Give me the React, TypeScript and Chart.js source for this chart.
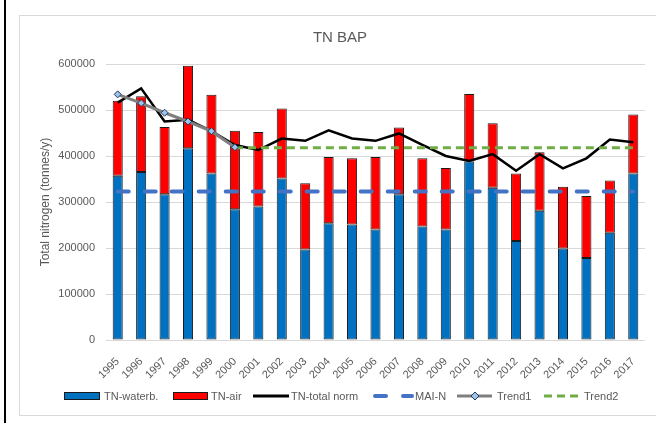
import React, { useEffect, useRef } from "react";
import { Chart, registerables } from "chart.js";

Chart.register(...registerables);

const FONT = "'Liberation Sans', Arial, sans-serif";

const years = [
  "1995", "1996", "1997", "1998", "1999", "2000", "2001", "2002", "2003", "2004", "2005", "2006",
  "2007", "2008", "2009", "2010", "2011", "2012", "2013", "2014", "2015", "2016", "2017",
];

const tnWaterborne = [
  357000, 365000, 317000, 417000, 362000, 284000, 290000, 351000, 197000, 254000, 251000, 240000,
  317000, 247000, 240000, 388000, 331000, 215000, 281000, 199000, 178000, 233000, 362000,
];

const tnAir = [
  163000, 165000, 146000, 179000, 171000, 171000, 162000, 152000, 144000, 144000, 144000, 158000,
  145000, 148000, 134000, 147000, 140000, 147000, 127000, 134000, 135000, 114000, 128000,
];

const tnTotalNorm = [
  516000, 547000, 475000, 479000, 454000, 424000, 413000, 438000, 433000, 456000, 438000, 433000,
  449000, 424000, 400000, 389000, 404000, 368000, 404000, 373000, 395000, 436000, 430000,
];

const maiN = [
  323000, 323000, 323000, 323000, 323000, 323000, 323000, 323000, 323000, 323000, 323000, 323000,
  323000, 323000, 323000, 323000, 323000, 323000, 323000, 323000, 323000, 323000, 323000,
];

const trend1 = [
  534000, 515000, 494000, 475000, 454000, 419000, null, null, null, null, null, null,
  null, null, null, null, null, null, null, null, null, null, null,
];

const trend2 = [
  null, null, null, null, null, 418000, 418000, 418000, 418000, 418000, 418000, 418000,
  418000, 418000, 418000, 418000, 418000, 418000, 418000, 418000, 418000, 418000, 418000,
];

const yTickValues = [0, 100000, 200000, 300000, 400000, 500000, 600000];

const chartTitle = "TN BAP";
const yAxisTitle = "Total nitrogen (tonnes/y)";

const C_BLUE = "#0070C0";
const C_RED = "#FF0000";
const C_MAI = "#4472C4";
const C_GREY = "#7F7F7F";
const C_GREEN = "#70AD47";
const C_TEXT = "#595959";

export default function App() {
  const ref = useRef<HTMLCanvasElement>(null);

  useEffect(() => {
    document.body.style.margin = "0";
    const canvas = ref.current;
    if (!canvas) return;

    const titlePlugin = {
      id: "fixedTitle",
      afterDraw(chart: any) {
        const ctx = chart.ctx;
        ctx.save();
        ctx.font = `15px ${FONT}`;
        ctx.fillStyle = C_TEXT;
        ctx.textAlign = "center";
        ctx.textBaseline = "middle";
        ctx.fillText(chartTitle, 340, 38);
        ctx.restore();
      },
    };

    const chart = new Chart(canvas, {
      type: "bar",
      data: {
        labels: years,
        datasets: [
          {
            type: "line",
            label: "Trend1",
            data: trend1 as any,
            borderColor: C_GREY,
            borderWidth: 3,
            pointStyle: "rectRot",
            pointRadius: 3.5,
            pointBackgroundColor: "#9DC3E6",
            pointBorderColor: "#1F3864",
            pointBorderWidth: 1,
            spanGaps: false,
            stack: "t1",
            order: 0,
          },
          {
            type: "line",
            label: "Trend2",
            data: trend2 as any,
            borderColor: C_GREEN,
            borderWidth: 3,
            borderDash: [8, 5],
            pointRadius: 0,
            stack: "t2",
            order: 0,
          },
          {
            type: "line",
            label: "TN-total norm",
            data: tnTotalNorm,
            borderColor: "#000000",
            borderWidth: 2.5,
            pointRadius: 0,
            stack: "tot",
            order: 1,
          },
          {
            type: "line",
            label: "MAI-N",
            data: maiN,
            borderColor: C_MAI,
            borderWidth: 4,
            borderDash: [11, 16],
            borderCapStyle: "round",
            pointRadius: 0,
            stack: "mai",
            order: 1,
          },
          {
            type: "bar",
            label: "TN-waterb.",
            data: tnWaterborne,
            backgroundColor: C_BLUE,
            borderColor: "#1a1a1a",
            borderWidth: 1,
            borderSkipped: false,
            stack: "bars",
            order: 2,
            barPercentage: 0.43,
            categoryPercentage: 1,
          },
          {
            type: "bar",
            label: "TN-air",
            data: tnAir,
            backgroundColor: C_RED,
            borderColor: "#1a1a1a",
            borderWidth: 1,
            borderSkipped: false,
            stack: "bars",
            order: 2,
            barPercentage: 0.43,
            categoryPercentage: 1,
          },
        ],
      },
      options: {
        responsive: false,
        devicePixelRatio: 1,
        animation: false,
        layout: { padding: { left: 34, right: 11, top: 64, bottom: 33 } },
        plugins: {
          legend: { display: false },
          title: { display: false },
          tooltip: { enabled: false },
        },
        scales: {
          x: {
            stacked: true,
            grid: { display: false },
            border: { display: false },
            ticks: {
              color: C_TEXT,
              font: { family: FONT, size: 11 },
              minRotation: 45,
              maxRotation: 45,
              padding: 7,
              autoSkip: false,
            },
            afterFit(scale: any) {
              scale.height = 50;
            },
          },
          y: {
            stacked: true,
            min: 0,
            max: 600000,
            afterBuildTicks(scale: any) {
              scale.ticks = yTickValues.map((v) => ({ value: v }));
            },
            grid: { color: "#D9D9D9", lineWidth: 1, drawTicks: false },
            border: { display: false },
            ticks: {
              color: C_TEXT,
              font: { family: FONT, size: 11 },
              padding: 11,
              callback: (v: any) => String(v),
            },
            title: {
              display: true,
              text: yAxisTitle,
              color: C_TEXT,
              font: { family: FONT, size: 12 },
              padding: { top: 4, bottom: 4 },
            },
            afterFit(scale: any) {
              scale.width = 72;
            },
          },
        },
      },
      plugins: [titlePlugin],
    });

    return () => chart.destroy();
  }, []);

  const textStyle: React.CSSProperties = {
    position: "absolute",
    top: 389,
    fontFamily: FONT,
    fontSize: 11,
    color: C_TEXT,
    lineHeight: "14px",
    whiteSpace: "nowrap",
  };

  return (
    <div
      style={{
        position: "relative",
        width: 656,
        height: 423,
        overflow: "hidden",
        background: "#ffffff",
      }}
    >
      <div style={{ position: "absolute", left: 4, top: 0, width: 2, height: 423, background: "#000" }} />
      <div
        style={{
          position: "absolute",
          left: 19,
          top: 15,
          width: 660,
          height: 401,
          border: "1px solid #D9D9D9",
          boxSizing: "border-box",
        }}
      />
      <canvas
        ref={ref}
        width={656}
        height={423}
        style={{ position: "absolute", left: 0, top: 0, width: 656, height: 423 }}
      />
      <svg
        width={656}
        height={423}
        style={{ position: "absolute", left: 0, top: 0, pointerEvents: "none" }}
      >
        <rect x={64.5} y={392.5} width={35} height={7} fill={C_BLUE} stroke="#1a1a1a" strokeWidth={1} />
        <rect x={173.5} y={392.5} width={34} height={7} fill={C_RED} stroke="#1a1a1a" strokeWidth={1} />
        <line x1={253} y1={396} x2={289} y2={396} stroke="#000" strokeWidth={3} />
        <line x1={375} y1={396} x2={386} y2={396} stroke={C_MAI} strokeWidth={4} strokeLinecap="round" />
        <line x1={403} y1={396} x2={412} y2={396} stroke={C_MAI} strokeWidth={4} strokeLinecap="round" />
        <line x1={457} y1={396} x2={492} y2={396} stroke={C_GREY} strokeWidth={3} />
        <polygon
          points="475,392 479,396 475,400 471,396"
          fill="#9DC3E6"
          stroke="#1F3864"
          strokeWidth={1}
        />
        <line x1={544} y1={396} x2={580} y2={396} stroke={C_GREEN} strokeWidth={3} strokeDasharray="8 5" />
      </svg>
      <span style={{ ...textStyle, left: 104 }}>TN-waterb.</span>
      <span style={{ ...textStyle, left: 211 }}>TN-air</span>
      <span style={{ ...textStyle, left: 291 }}>TN-total norm</span>
      <span style={{ ...textStyle, left: 415 }}>MAI-N</span>
      <span style={{ ...textStyle, left: 497 }}>Trend1</span>
      <span style={{ ...textStyle, left: 584 }}>Trend2</span>
    </div>
  );
}
